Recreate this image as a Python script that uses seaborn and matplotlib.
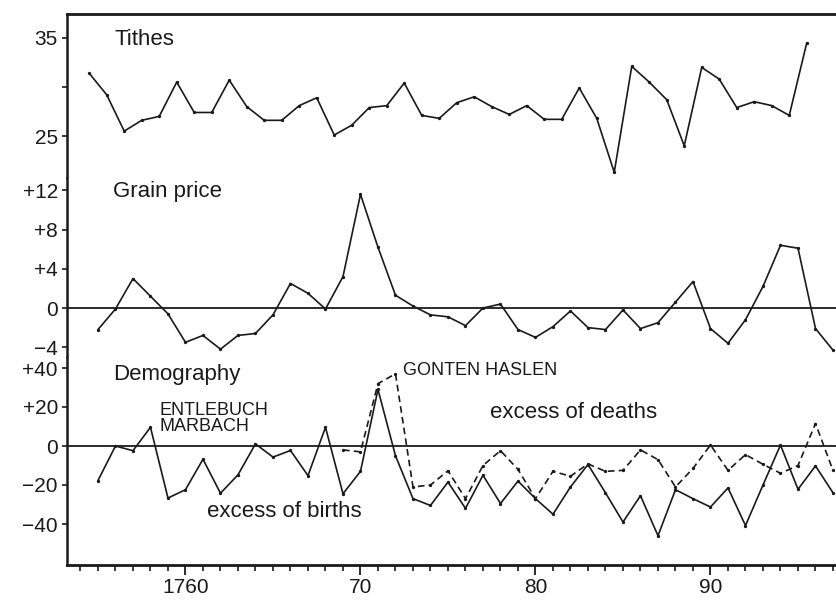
import numpy as np
import pandas as pd
import matplotlib
matplotlib.use("Agg")
import matplotlib.pyplot as plt
import seaborn as sns
from matplotlib.ticker import FixedLocator, MultipleLocator

# ---------------- data ----------------
tithe_years = list(range(1755, 1797))
tithe_values = [31.4, 29.2, 25.5, 26.6, 27.0, 30.5, 27.4, 27.4, 30.7, 28.0,
                26.6, 26.6, 28.1, 28.9, 25.1, 26.1, 27.9, 28.1, 30.4, 27.1,
                26.8, 28.4, 29.0, 28.0, 27.2, 28.1, 26.7, 26.7, 29.9, 26.8,
                21.3, 32.1, 30.5, 28.7, 24.0, 32.0, 30.8, 27.9, 28.5, 28.1,
                27.1, 34.5]

grain_years = list(range(1755, 1798))
grain_values = [-2.2, -0.1, 3.0, 1.2, -0.6, -3.5, -2.8, -4.2, -2.8, -2.6,
                -0.7, 2.5, 1.5, -0.1, 3.2, 11.6, 6.2, 1.3, 0.2, -0.7,
                -0.9, -1.8, 0.0, 0.4, -2.2, -3.0, -1.9, -0.3, -2.0, -2.2,
                -0.2, -2.1, -1.5, 0.6, 2.7, -2.1, -3.6, -1.2, 2.2, 6.4,
                6.1, -2.1, -4.3]

entlebuch_years = list(range(1755, 1798))
entlebuch_values = [-17.7, 0.0, -2.4, 9.6, -26.7, -22.4, -6.8, -24.2, -14.8, 1.1,
                    -5.7, -2.3, -15.2, 9.6, -24.5, -13.0, 29.0, -5.0, -27.0, -30.5,
                    -18.5, -32.0, -15.0, -29.5, -18.0, -27.0, -35.0, -21.0, -9.5, -24.0,
                    -39.0, -25.5, -46.0, -22.4, -27.0, -31.3, -21.5, -40.8, -20.0, 0.5,
                    -22.2, -10.2, -24.0]

gonten_years = list(range(1769, 1798))
gonten_values = [-2.0, -3.0, 32.0, 37.0, -21.0, -20.0, -12.7, -27.0, -10.0, -2.4,
                 -12.0, -27.0, -13.0, -15.5, -9.2, -13.0, -12.5, -2.0, -7.0, -21.0,
                 -11.5, 0.5, -12.5, -4.4, -9.4, -14.0, -10.0, 11.5, -12.5]

x_tick_years = [1760, 1770, 1780, 1790]
x_tick_labels = ["1760", "70", "80", "90"]
tithe_ticks = [25, 35]
tithe_tick_labels = ["25", "35"]
grain_ticks = [-4, 0, 4, 8, 12]
grain_tick_labels = ["\u22124", "0", "+4", "+8", "+12"]
demo_ticks = [-40, -20, 0, 20, 40]
demo_tick_labels = ["\u221240", "\u221220", "0", "+20", "+40"]

tithes = pd.DataFrame({"year": np.array(tithe_years) - 0.5, "value": tithe_values})
grain = pd.DataFrame({"year": grain_years, "value": grain_values})
entl = pd.DataFrame({"year": entlebuch_years, "value": entlebuch_values})
gont = pd.DataFrame({"year": gonten_years, "value": gonten_values})

# ---------------- style ----------------
sns.set_style("ticks")
plt.rcParams["font.family"] = ["Liberation Sans", "DejaVu Sans"]
INK = "#1a1a1a"

fig = plt.figure(figsize=(8.36, 6.03), dpi=100)
fig.patch.set_facecolor("white")

W_PX, H_PX = 836, 603
left = 67 / W_PX
width = (875 - 67) / W_PX

def box(top_px, bot_px):
    return [left, 1 - bot_px / H_PX, width, (bot_px - top_px) / H_PX]

ax1 = fig.add_axes(box(14, 178))
ax2 = fig.add_axes(box(178, 357), sharex=ax1)
ax3 = fig.add_axes(box(357, 565), sharex=ax1)

line_kw = dict(color=INK, linewidth=1.2, marker="o", markersize=2.4,
               markeredgewidth=0, errorbar=None, legend=False)

sns.lineplot(data=tithes, x="year", y="value", ax=ax1, **line_kw)
sns.lineplot(data=grain, x="year", y="value", ax=ax2, **line_kw)
sns.lineplot(data=entl, x="year", y="value", ax=ax3, **line_kw)
sns.lineplot(data=gont, x="year", y="value", ax=ax3,
             linestyle=(0, (4, 2.5)), **line_kw)

ax2.axhline(0, color=INK, linewidth=1.3, zorder=1)
ax3.axhline(0, color=INK, linewidth=1.3, zorder=1)

ax1.set_xlim(1753.23, 1755 + (875 - 98) / 17.5)
ax1.set_ylim(35 - (178 - 38) / 9.8, 35 + (38 - 14) / 9.8)
ax2.set_ylim(-(357 - 308) / 9.8, (308 - 178) / 9.8)
ax3.set_ylim(-(565 - 446) / 1.95, (446 - 357) / 1.95)

for ax in (ax1, ax2, ax3):
    ax.set_facecolor("white")
    ax.set_xlabel("")
    ax.set_ylabel("")
    ax.spines["right"].set_visible(False)
    ax.spines["left"].set_linewidth(1.8)
    ax.spines["left"].set_color(INK)
    ax.tick_params(axis="y", which="both", direction="out", length=3.5,
                   width=1.2, color=INK, labelsize=15, labelcolor=INK, pad=3)

ax1.spines["bottom"].set_visible(False)
ax1.spines["top"].set_linewidth(2.0)
ax1.spines["top"].set_color(INK)
ax2.spines["top"].set_visible(False)
ax2.spines["bottom"].set_visible(False)
ax3.spines["top"].set_visible(False)
ax3.spines["bottom"].set_linewidth(2.0)
ax3.spines["bottom"].set_color(INK)

for ax in (ax1, ax2):
    ax.tick_params(axis="x", which="both", bottom=False, labelbottom=False)

ax1.set_yticks(tithe_ticks)
ax1.set_yticklabels(tithe_tick_labels)
ax1.yaxis.set_minor_locator(FixedLocator([30]))
ax2.set_yticks(grain_ticks)
ax2.set_yticklabels(grain_tick_labels)
ax3.set_yticks(demo_ticks)
ax3.set_yticklabels(demo_tick_labels)

ax3.set_xticks(x_tick_years)
ax3.set_xticklabels(x_tick_labels)
ax3.xaxis.set_minor_locator(MultipleLocator(1))
ax3.tick_params(axis="x", which="major", direction="out", length=7.5, width=1.3,
                color=INK, labelsize=15, labelcolor=INK, pad=2)
ax3.tick_params(axis="x", which="minor", direction="out", length=4.5, width=1.2,
                color=INK)

def xp(px):
    return 1755 + (px - 98) / 17.5

txt = dict(color=INK, ha="left", va="baseline")
ax1.text(xp(115), 34.29, "Tithes", fontsize=16, **txt)
ax2.text(xp(113), (308 - 197) / 9.8, "Grain price", fontsize=16, **txt)
ax3.text(xp(113), (446 - 380) / 1.95, "Demography", fontsize=16, **txt)
ax3.text(xp(160), (446 - 415) / 1.95, "ENTLEBUCH", fontsize=13, **txt)
ax3.text(xp(160), (446 - 431) / 1.95, "MARBACH", fontsize=13, **txt)
ax3.text(xp(403), (446 - 375) / 1.95, "GONTEN HASLEN", fontsize=13, **txt)
ax3.text(xp(490), (446 - 418) / 1.95, "excess of deaths", fontsize=16, **txt)
ax3.text(xp(207), (446 - 517) / 1.95, "excess of births", fontsize=16, **txt)

fig.savefig("out.png", dpi=100, facecolor="white")
